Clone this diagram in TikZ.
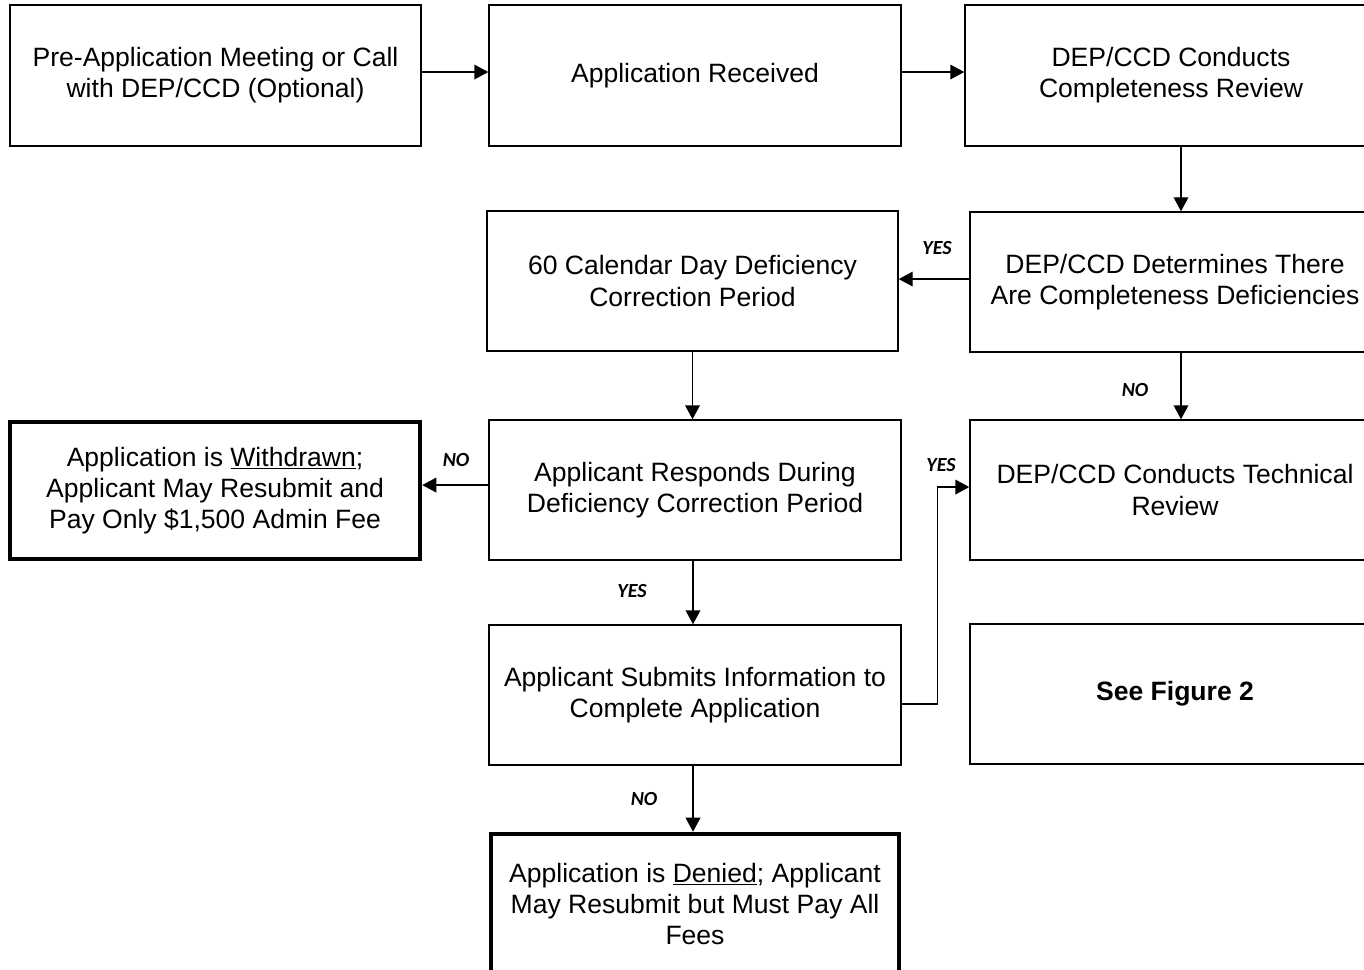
\documentclass[tikz,border=0pt]{standalone}
\usepackage{fontspec}
\setmainfont{Liberation Sans}
\newfontfamily\labfont{Carlito}
\usetikzlibrary{arrows.meta}
\tikzset{
  box/.style 2 args={draw, rectangle, line width=1.1pt, minimum width=#1, minimum height=#2,
    inner sep=0pt, align=center, font=\fontsize{19.9pt}{23.3pt}\selectfont},
  thickbox/.style 2 args={box={#1}{#2}, line width=3.4pt},
  arr/.style={line width=1.1pt, -{Triangle[length=10.5pt,width=11pt]}},
  lab/.style={font=\labfont\fontsize{15pt}{17pt}\selectfont\bfseries\itshape, inner sep=0pt}
}
\begin{document}
\begin{tikzpicture}[x=0.75pt,y=-0.75pt]
\useasboundingbox (0,0) rectangle (1364,970);
\clip (0,0) rectangle (1364,970);
\node[box={308.25pt}{105.75pt}] (b1) at (215.5,75.5) {Pre-Application Meeting or Call\\with DEP/CCD (Optional)};
\node[box={309pt}{105.75pt}] (b2) at (695,75.5) {Application Received};
\node[box={309pt}{105.75pt}] (b3) at (1171,75.5) {DEP/CCD Conducts\\Completeness Review};
\node[box={308.25pt}{105pt}] (b4) at (692.5,281) {60 Calendar Day Deficiency\\Correction Period};
\node[box={307.5pt}{105pt}] (b5) at (1175,282) {DEP/CCD Determines There\\Are Completeness Deficiencies};
\node[thickbox={307.5pt}{102.75pt}] (b6) at (215,490.5) {Application is \underline{Withdrawn};\\Applicant May Resubmit and\\Pay Only \$1,500 Admin Fee};
\node[box={309pt}{105pt}] (b7) at (695,490) {Applicant Responds During\\Deficiency Correction Period};
\node[box={307.5pt}{105pt}] (b8) at (1175,490) {DEP/CCD Conducts Technical\\Review};
\node[box={309pt}{105pt}] (b9) at (695,695) {Applicant Submits Information to\\Complete Application};
\node[box={307.5pt}{105pt}] (b10) at (1175,694) {\bfseries See Figure 2};
\node[thickbox={306pt}{105pt}] (b11) at (695,904) {Application is \underline{Denied}; Applicant\\May Resubmit but Must Pay All\\Fees};

\draw[arr] ([yshift=2.6pt]b1.east) coordinate (s1) -- (s1 -| b2.west);
\draw[arr] ([yshift=2.6pt]b2.east) coordinate (s2) -- (s2 -| b3.west);
\draw[arr] ([xshift=7.5pt]b3.south) coordinate (s3) -- (s3 |- b5.north);
\draw[arr] ([yshift=2.2pt]b5.west) coordinate (s4) -- (s4 -| b4.east);
\draw[arr] (b4.south) coordinate (s5) -- (s5 |- b7.north);
\draw[arr] ([xshift=4.5pt]b5.south) coordinate (s6) -- (s6 |- b8.north);
\draw[arr] ([yshift=3.7pt]b7.west) coordinate (s7) -- (s7 -| b6.east);
\draw[arr] ([xshift=-1.5pt]b7.south) coordinate (s8) -- (s8 |- b9.north);
\draw[arr] ([yshift=-6.8pt]b9.east) -- ++(27pt,0) |- ([yshift=2.2pt]b8.west);
\draw[arr] ([xshift=-1.5pt]b9.south) coordinate (s9) -- (s9 |- b11.north);

\node[lab] (l1) at (937,248) {YES};
\node[lab] (l2) at (1135,390) {NO};
\node[lab] (l3) at (456,460) {NO};
\node[lab] (l4) at (941,465) {YES};
\node[lab] (l5) at (632,591) {YES};
\node[lab] (l6) at (644,799) {NO};
\end{tikzpicture}
\end{document}
